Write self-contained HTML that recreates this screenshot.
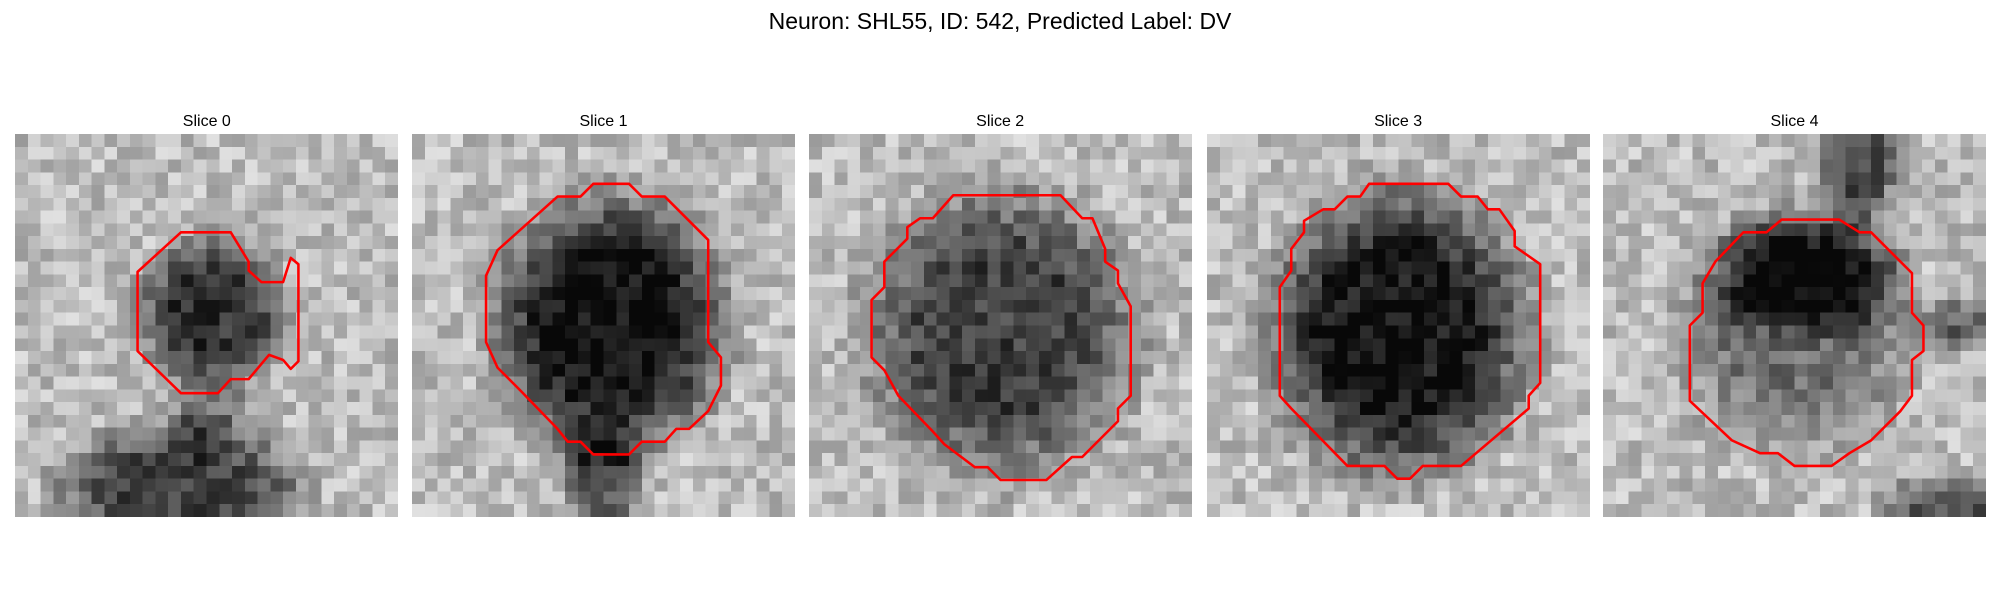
<!DOCTYPE html>
<html><head><meta charset="utf-8">
<style>
html,body{margin:0;padding:0;background:#fff;}
#root{position:relative;width:2000px;height:600px;overflow:hidden;font-family:"Liberation Sans","DejaVu Sans",sans-serif;}
.title{position:absolute;left:0;width:2000px;top:8px;text-align:center;font-size:23px;color:#000;}
.stitle{position:absolute;top:113px;width:383px;text-align:center;font-size:16px;color:#000;}
svg.panel{position:absolute;top:134px;width:383px;height:383px;}
</style></head>
<body>
<div id="root">
<div class="title">Neuron: SHL55, ID: 542, Predicted Label: DV</div>
</div>
<script>
// contours in grid units (30x30 image)
const titles=["Slice 0","Slice 1","Slice 2","Slice 3","Slice 4"];
const contour0=[[9.6,10.8],[13,7.7],[16.9,7.7],[18.3,10],[18.3,10.7],[19.3,11.6],[21,11.6],[21.6,9.7],[22.2,10.2],[22.2,17.8],[21.6,18.4],[21,17.7],[19.9,17.3],[18.3,19.2],[16.9,19.2],[15.9,20.3],[13,20.3],[9.6,17]];
const contour1=[[6.7,9.1],[11.4,4.9],[13.2,4.9],[14.2,3.9],[17,3.9],[18,4.9],[19.8,4.9],[23.2,8.3],[23.2,16.3],[24.2,17.5],[24.2,19.7],[23.2,21.7],[21.7,23.1],[20.7,23.1],[19.8,24.1],[18,24.1],[17,25.1],[14.2,25.1],[13.2,24.1],[12.2,24.1],[11.4,23.1],[8.5,20.1],[6.7,18.3],[5.8,16.3],[5.8,11.1]];
const contour2=[[11.3,4.8],[19.7,4.8],[21.4,6.6],[22.2,6.6],[23.2,9],[23.2,10],[24.2,10.7],[24.2,11.7],[25.2,13.5],[25.2,20.5],[24.2,21.5],[24.2,22.5],[21.4,25.3],[20.6,25.3],[18.6,27.1],[16.9,27.1],[15,27.1],[14,26.1],[13,26.1],[10.6,24.3],[9.7,23.3],[7,20.5],[5.9,18.5],[4.9,17.5],[4.9,13],[5.9,12],[5.9,10],[7.7,8.2],[7.7,7.3],[8.7,6.6],[9.7,6.6]];
const contour3=[[12.7,3.9],[18.9,3.9],[19.9,4.9],[21.2,4.9],[22,5.9],[22.9,5.9],[24.1,7.6],[24.1,8.8],[26.1,10.2],[26.1,19.5],[25.2,20.5],[25.2,21.5],[19.9,26],[16.9,26],[15.9,27],[14.9,27],[13.9,26],[11,26],[6.6,21.5],[5.7,20.5],[5.7,12],[6.6,10.7],[6.6,9],[7.6,7.7],[7.6,6.8],[9.1,5.9],[10,5.9],[11,4.9],[12,4.9]];
const contour4=[[14,6.7],[18.5,6.7],[20.1,7.7],[21,7.7],[24.2,10.9],[24.2,14],[25.1,15],[25.1,17],[24.2,17.7],[24.2,20.5],[23.3,21.7],[21,24],[19.3,25],[17.9,26],[15,26],[13.7,25],[12.3,25],[10.1,24],[6.8,20.9],[6.8,15],[7.8,14],[7.8,11.7],[8.8,10],[11,7.7],[12.8,7.7]];
const contours=[contour0,contour1,contour2,contour3,contour4];
// dark features [cx,cy,rx,ry,strength]
const blobs=[
 [[15.5,14,5.5,5.5,0.55],[13,28,9,5,0.5],[15,22,3,3,0.25]],
 [[15.5,15,8.5,9.5,0.68],[15,27,3,4,0.42]],
 [[15,15.5,10,10.5,0.5]],
 [[15,15.5,9.5,10.5,0.66]],
 [[16,11,7,4.5,0.45],[15,15.5,8.5,9,0.3],[20,2,3,5,0.45],[28,15,3,2,0.35],[27,29,5,2,0.4]]
];
const lefts=[15.3,412,808.7,1206.6,1603];
const NS="http://www.w3.org/2000/svg";
function hash(a,b,c){let h=(a*374761393+b*668265263+c*2147483647)|0;h=(h^(h>>>13))*1274126177|0;h=h^(h>>>16);return ((h>>>0)%10000)/10000;}
const root=document.getElementById('root');
for(let p=0;p<5;p++){
 const t=document.createElement('div');
 t.className='stitle';t.style.left=lefts[p]+'px';t.textContent=titles[p];
 
 
 root.appendChild(t);
 const svg=document.createElementNS(NS,'svg');
 svg.setAttribute('class','panel');svg.setAttribute('viewBox','0 0 30 30');
 svg.setAttribute('shape-rendering','crispEdges');
 svg.style.left=lefts[p]+'px';
 
 
 for(let y=0;y<30;y++)for(let x=0;x<30;x++){
  let v=0.74+(hash(x,y,p)-0.5)*0.28;
  for(const b of blobs[p]){
   const d=Math.hypot((x+0.5-b[0])/b[2],(y+0.5-b[1])/b[3]);
   const m=d<0.6?1:(d<1.3?(1.3-d)/0.7:0);
   v-=b[4]*m;
  }
  v=Math.max(0.03,Math.min(0.97,v));
  const g=Math.round(v*255);
  const r=document.createElementNS(NS,'rect');
  r.setAttribute('x',x);r.setAttribute('y',y);r.setAttribute('width',1.02);r.setAttribute('height',1.02);
  r.setAttribute('fill','rgb('+g+','+g+','+g+')');
  svg.appendChild(r);
 }
 const pl=document.createElementNS(NS,'polygon');
 pl.setAttribute('points',contours[p].map(q=>q.join(',')).join(' '));
 pl.setAttribute('fill','none');pl.setAttribute('stroke','#ff0000');pl.setAttribute('stroke-width','0.2');
 pl.setAttribute('stroke-linejoin','round');pl.setAttribute('shape-rendering','auto');
 
 
 svg.appendChild(pl);
 root.appendChild(svg);
}
</script>
</body></html>
